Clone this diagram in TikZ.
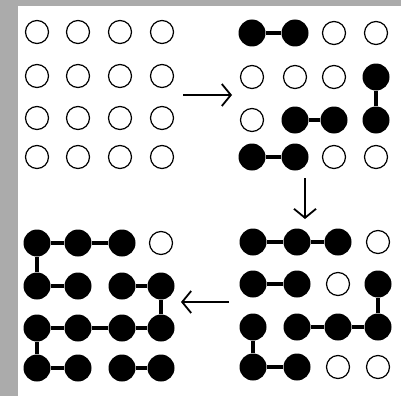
\documentclass[tikz,border=0pt]{standalone}
\usetikzlibrary{arrows.meta}
\definecolor{frame}{HTML}{ABABAB}
\begin{document}
\begin{tikzpicture}[x=1pt,y=-1pt,
 hol/.style={circle,draw,line width=1.2pt,minimum size=23pt,inner sep=0pt},
 fil/.style={circle,fill=black,minimum size=27pt,inner sep=0pt},
 link/.style={line width=4pt},
 flow/.style={line width=1.8pt,-{Straight Barb[length=9pt,width=22pt,line width=1.8pt]}}]
\fill[frame] (0,0) rectangle (401,396);
\fill[white] (18,6) rectangle (401,396);
\useasboundingbox (0,0) rectangle (401,396);
% top-left grid
\foreach \c/\x in {1/37,2/78,3/120,4/162}
  \foreach \r/\y in {1/32,2/76,3/118,4/157}
    \node[hol] (a\r\c) at (\x,\y) {};
% top-right grid
\foreach \r/\y/\ta/\tb/\tc/\td in {1/33/fil/fil/hol/hol,2/77/hol/hol/hol/fil,3/120/hol/fil/fil/fil,4/157/fil/fil/hol/hol}{
  \node[\ta] (b\r1) at (252,\y) {};
  \node[\tb] (b\r2) at (295,\y) {};
  \node[\tc] (b\r3) at (334,\y) {};
  \node[\td] (b\r4) at (376,\y) {};
}
% bottom-right grid
\foreach \r/\y/\ta/\tb/\tc/\td in {1/242/fil/fil/fil/hol,2/284/fil/fil/hol/fil,3/327/fil/fil/fil/fil,4/367/fil/fil/hol/hol}{
  \node[\ta] (c\r1) at (253,\y) {};
  \node[\tb] (c\r2) at (297,\y) {};
  \node[\tc] (c\r3) at (338,\y) {};
  \node[\td] (c\r4) at (378,\y) {};
}
% bottom-left grid
\foreach \r/\y/\ta/\tb/\tc/\td in {1/243/fil/fil/fil/hol,2/286/fil/fil/fil/fil,3/328/fil/fil/fil/fil,4/368/fil/fil/fil/fil}{
  \node[\ta] (d\r1) at (37,\y) {};
  \node[\tb] (d\r2) at (78,\y) {};
  \node[\tc] (d\r3) at (122,\y) {};
  \node[\td] (d\r4) at (161,\y) {};
}
% links top-right
\draw[link] (b11) -- (b12);
\draw[link] (b24) -- (b34);
\draw[link] (b32) -- (b33);
\draw[link] (b41) -- (b42);
% links bottom-right
\draw[link] (c11) -- (c12) -- (c13);
\draw[link] (c21) -- (c22);
\draw[link] (c24) -- (c34);
\draw[link] (c32) -- (c33) -- (c34);
\draw[link] (c31) -- (c41);
\draw[link] (c41) -- (c42);
% links bottom-left
\draw[link] (d11) -- (d12) -- (d13);
\draw[link] (d11) -- (d21);
\draw[link] (d21) -- (d22);
\draw[link] (d23) -- (d24);
\draw[link] (d24) -- (d34);
\draw[link] (d31) -- (d32) -- (d33) -- (d34);
\draw[link] (d31) -- (d41);
\draw[link] (d41) -- (d42);
\draw[link] (d43) -- (d44);
% flow arrows
\coordinate (r0) at (183,95);
\coordinate (r1) at (232,95);
\coordinate (s0) at (305,178);
\coordinate (s1) at (305,219);
\coordinate (t0) at (229,302);
\coordinate (t1) at (181,302);
\draw[flow] (r0) -- (r1);
\draw[flow] (s0) -- (s1);
\draw[flow] (t0) -- (t1);
\end{tikzpicture}
\end{document}
